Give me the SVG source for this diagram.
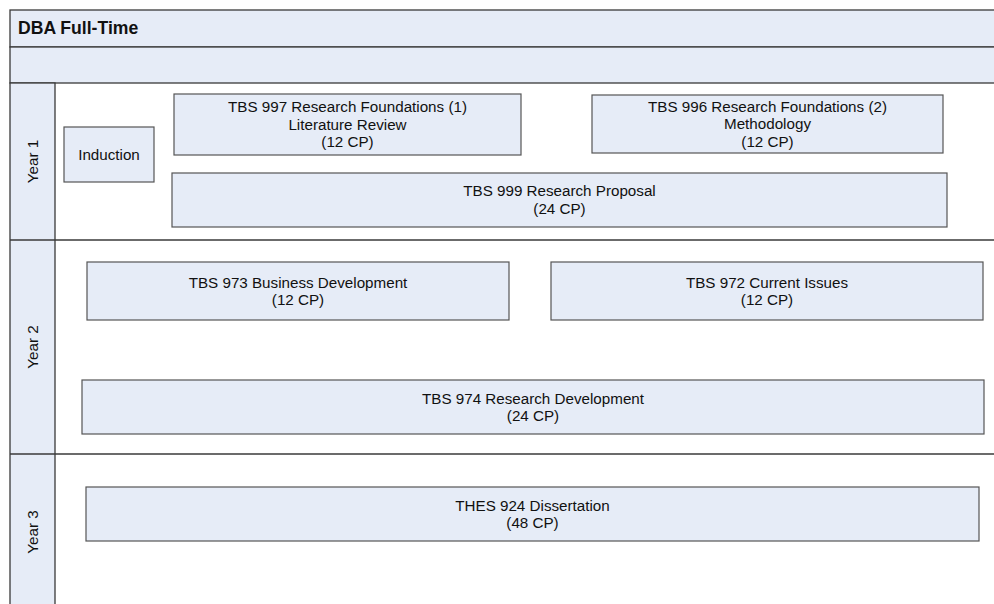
<svg xmlns="http://www.w3.org/2000/svg" width="994" height="604" viewBox="0 0 994 604">
<style>
.band{fill:#E6ECF7;stroke:#3a3a3a;stroke-width:1.3}
.sep{stroke:#3a3a3a;stroke-width:1.3;fill:none}
.box{fill:#E6ECF7;stroke:#555;stroke-width:1.2}
.t{font-family:"Liberation Sans",Arial,sans-serif;font-size:15.2px;fill:#111;text-anchor:middle}
.title{font-family:"Liberation Sans",Arial,sans-serif;font-size:17.6px;font-weight:bold;fill:#111}
</style>
<rect x="0" y="0" width="994" height="604" fill="#fff"/>
<g id="pool">
<rect class="band" x="10" y="10" width="990" height="37"/>
<text class="title" x="18" y="34">DBA Full-Time</text>
<rect class="band" x="10" y="47" width="990" height="36"/>
<rect class="band" x="10" y="83" width="45" height="530"/>
<line class="sep" x1="55" y1="240" x2="994" y2="240"/>
<line class="sep" x1="55" y1="454" x2="994" y2="454"/>
<line class="sep" x1="10" y1="240" x2="55" y2="240"/>
<line class="sep" x1="10" y1="454" x2="55" y2="454"/>
</g>
<g id="lane-year1"><text class="t" transform="translate(37.5,161.5) rotate(-90)">Year 1</text></g>
<g id="lane-year2"><text class="t" transform="translate(37.5,347) rotate(-90)">Year 2</text></g>
<g id="lane-year3"><text class="t" transform="translate(37.5,532) rotate(-90)">Year 3</text></g>
<g id="connectors"></g>
<g id="induction">
<rect class="box" x="64" y="127" width="90" height="55"/>
<text class="t" x="109" y="159.5">Induction</text>
</g>
<g id="tbs997">
<rect class="box" x="174" y="94" width="347" height="61"/>
<text class="t" x="347.5" y="112">TBS 997 Research Foundations (1)</text>
<text class="t" x="347.5" y="129.5">Literature Review</text>
<text class="t" x="347.5" y="147">(12 CP)</text>
</g>
<g id="tbs996">
<rect class="box" x="592" y="95" width="351" height="58"/>
<text class="t" x="767.5" y="111.5">TBS 996 Research Foundations (2)</text>
<text class="t" x="767.5" y="129">Methodology</text>
<text class="t" x="767.5" y="146.5">(12 CP)</text>
</g>
<g id="tbs999">
<rect class="box" x="172" y="173" width="775" height="54"/>
<text class="t" x="559.5" y="196">TBS 999 Research Proposal</text>
<text class="t" x="559.5" y="213.5">(24 CP)</text>
</g>
<g id="tbs973">
<rect class="box" x="87" y="262" width="422" height="58"/>
<text class="t" x="298" y="287.5">TBS 973 Business Development</text>
<text class="t" x="298" y="305">(12 CP)</text>
</g>
<g id="tbs972">
<rect class="box" x="551" y="262" width="432" height="58"/>
<text class="t" x="767" y="287.5">TBS 972 Current Issues</text>
<text class="t" x="767" y="305">(12 CP)</text>
</g>
<g id="tbs974">
<rect class="box" x="82" y="380" width="902" height="54"/>
<text class="t" x="533" y="403.5">TBS 974 Research Development</text>
<text class="t" x="533" y="421">(24 CP)</text>
</g>
<g id="thes924">
<rect class="box" x="86" y="487" width="893" height="54"/>
<text class="t" x="532.5" y="510.5">THES 924 Dissertation</text>
<text class="t" x="532.5" y="528">(48 CP)</text>
</g>
</svg>
